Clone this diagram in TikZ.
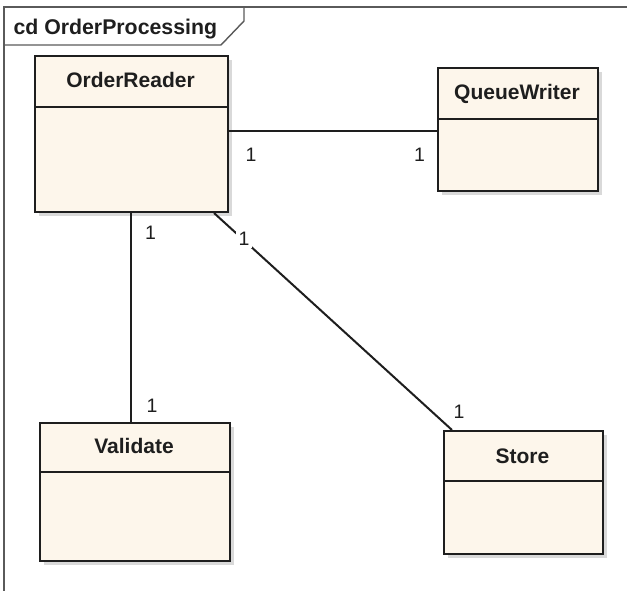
\documentclass[tikz,border=0pt]{standalone}
\usepackage{fontspec}
\setmainfont{Liberation Sans}
\usetikzlibrary{shadows}
\definecolor{classfill}{HTML}{FDF6EB}
\definecolor{edgec}{HTML}{1E1E1E}
\definecolor{framec}{HTML}{5A5A5A}
\definecolor{shadec}{HTML}{D9D9D9}
\begin{document}
\begin{tikzpicture}[x=1pt,y=-1pt,
  classbox/.style={draw=edgec, line width=2pt, fill=classfill, inner sep=0pt, anchor=north west,
    drop shadow={shadow xshift=4pt, shadow yshift=-4pt, fill=shadec, opacity=1}},
  classname/.style={font=\fontsize{21}{24}\selectfont\bfseries, text=edgec, anchor=base, inner sep=0pt},
  mult/.style={font=\fontsize{19.5}{22}\selectfont, text=edgec, inner sep=0pt},
  assoc/.style={draw=edgec, line width=2pt},
  divider/.style={draw=edgec, line width=2pt}
]
\useasboundingbox (0,0) rectangle (627,591);
% frame
\draw[framec, line width=1.6pt] (4,600) -- (4,7) -- (640,7);
\draw[framec, line width=1.4pt] (4,45) -- (221,45) -- (244,21) -- (244,7);
\node[font=\fontsize{21.3}{24}\selectfont\bfseries, text=edgec, anchor=base west, inner sep=0pt] (title) at (13.3,35) {cd OrderProcessing};

% classes
\node[classbox, minimum width=193pt, minimum height=156pt] (orderreader) at (34,55) {};
\draw[divider] (orderreader.west |- 0,107) -- (orderreader.east |- 0,107);
\node[classname] (orname) at (130.5,87.3) {OrderReader};

\node[classbox, minimum width=160pt, minimum height=123pt] (queuewriter) at (437,67) {};
\draw[divider] (queuewriter.west |- 0,119) -- (queuewriter.east |- 0,119);
\node[classname] (qwname) at (517,100) {QueueWriter};

\node[classbox, minimum width=190pt, minimum height=138pt] (validate) at (39,422) {};
\draw[divider] (validate.west |- 0,472) -- (validate.east |- 0,472);
\node[classname] (vname) at (134,453.3) {Validate};

\node[classbox, minimum width=159pt, minimum height=123pt] (store) at (443,430) {};
\draw[divider] (store.west |- 0,481) -- (store.east |- 0,481);
\node[classname] (sname) at (522.5,463) {Store};

% associations
\draw[assoc] (orderreader.east |- 0,131) -- (queuewriter.west |- 0,131);
\draw[assoc] (orderreader.south -| 131,0) -- (validate.north -| 131,0);
\draw[assoc] (orderreader.south -| 214,0) -- (store.north -| 452,0);

% multiplicities
\node[mult] (m1) at (251,154.5) {1};
\node[mult] (m2) at (419.5,154.5) {1};
\node[mult] (m3) at (150.5,233) {1};
\node[mult] (m4) at (152,406) {1};
\node[mult, fill=white, inner sep=2.5pt] (m5) at (244,239) {1};
\node[mult] (m6) at (459,411.7) {1};
\end{tikzpicture}
\end{document}
